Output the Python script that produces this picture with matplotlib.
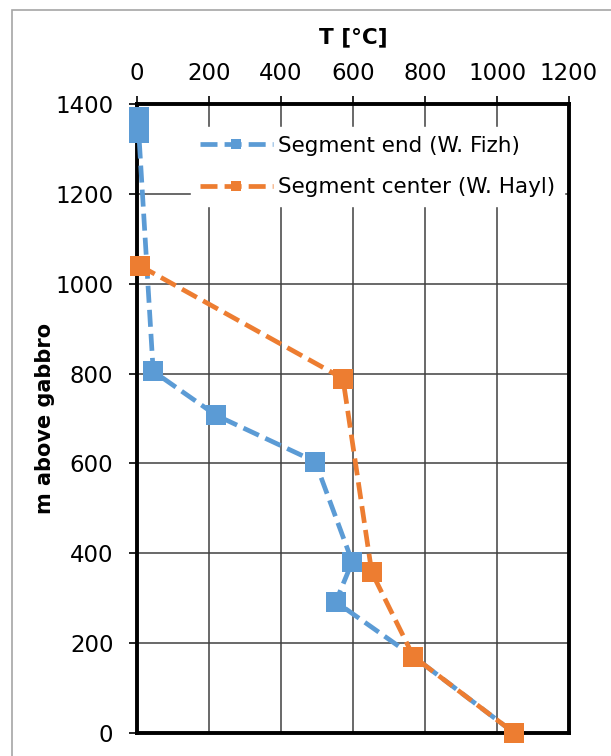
import numpy as np
import matplotlib.pyplot as plt
from matplotlib.patches import Rectangle

# Segment end (W. Fizh)
end_T = [5, 5, 45, 220, 495, 598, 552, 768, 1048]
end_h = [1370, 1335, 805, 707, 604, 381, 292, 170, 0]

# Segment center (W. Hayl)
center_T = [8, 572, 652, 768, 1048]
center_h = [1040, 789, 358, 170, 0]

x_ticks = [0, 200, 400, 600, 800, 1000, 1200]
y_ticks = [0, 200, 400, 600, 800, 1000, 1200, 1400]

blue = '#5B9BD5'
orange = '#ED7D31'

plt.rcParams['font.family'] = ['DejaVu Sans']

fig = plt.figure(figsize=(6.11, 7.56), dpi=100)
# gray chart-area border
fig.patches.append(Rectangle((12/611, -0.05), 1.2, 1 - 10/756 + 0.05, transform=fig.transFigure,
                             fill=False, edgecolor='#A6A6A6', lw=1.2))

ax = fig.add_axes([137/611, 1 - 733/756, 432/611, 629/756])

ax.plot(end_T, end_h, color=blue, lw=3.4, dashes=(3.6, 1.5), marker='s', markersize=14,
        markeredgewidth=0, label='Segment end (W. Fizh)', zorder=3, clip_on=False)
ax.plot(center_T, center_h, color=orange, lw=3.4, dashes=(3.6, 1.5), marker='s', markersize=14,
        markeredgewidth=0, label='Segment center (W. Hayl)', zorder=4, clip_on=False)

ax.set_xlim(0, 1200)
ax.set_ylim(0, 1400)
ax.set_xticks(x_ticks)
ax.set_yticks(y_ticks)
ax.xaxis.tick_top()
ax.xaxis.set_label_position('top')
ax.tick_params(axis='both', labelsize=16.5, length=6, width=1.2, color='black')
ax.tick_params(axis='x', pad=8)
ax.tick_params(axis='y', pad=11)
ax.grid(True, color='#404040', lw=1.1)
ax.set_axisbelow(True)
for sp in ax.spines.values():
    sp.set_linewidth(2.8)
    sp.set_color('black')
    sp.set_zorder(2.5)

ax.set_xlabel('T [°C]', fontsize=15.5, fontweight='bold', labelpad=13)
ax.set_ylabel('m above gabbro', fontsize=15, fontweight='bold')
ax.yaxis.set_label_coords(-0.19, 0.5)

leg = ax.legend(loc='upper left', bbox_to_anchor=(0.10, 0.98), fontsize=15.5, frameon=True,
                fancybox=False, edgecolor='white', framealpha=1, handlelength=3.4,
                markerscale=0.55, labelspacing=1.0, borderpad=0.4, handletextpad=0.25)

fig.savefig('out.png', dpi=100)
